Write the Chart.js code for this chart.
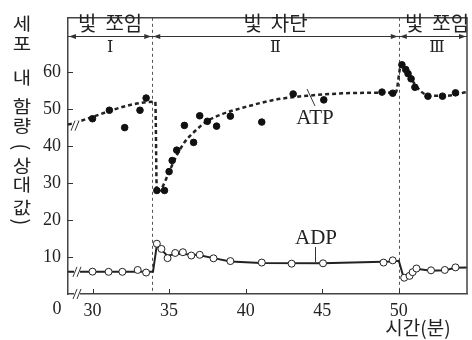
<!DOCTYPE html>
<html>
<head>
<meta charset="utf-8">
<script src="https://cdn.jsdelivr.net/npm/chart.js@4.4.0/dist/chart.umd.min.js"></script>
<style>
  html, body { margin: 0; padding: 0; background: #fff; }
  #wrap { width: 472px; height: 340px; }
</style>
</head>
<body>
<div id="wrap"><canvas id="c" width="472" height="340"></canvas></div>
<script>
// ATP 측정값 (검은 점)
const atpX = [30.0, 31.1, 32.1, 33.1, 33.5, 34.2, 34.7, 35.0, 35.2, 35.5, 36.0, 36.6, 37.0, 37.5, 38.1, 39.0, 41.05, 43.1, 45.1, 48.9, 49.6, 50.2, 50.45, 50.6, 50.8, 51.05, 51.9, 52.85, 53.7];
const atpY = [47.4, 49.7, 45.0, 49.7, 53.0, 28.0, 28.0, 33.1, 36.1, 38.9, 45.6, 41.0, 48.2, 46.7, 45.4, 48.1, 46.5, 54.1, 52.5, 54.6, 54.3, 62.0, 60.7, 59.6, 58.2, 55.9, 53.5, 53.5, 54.4];

// ATP 추세선 (점선)
const atpCurveX = [28.4, 34.1, 34.2, 34.5, 35.0, 35.5, 36.0, 36.5, 37.5, 38.5, 40.0, 42.0, 44.0, 46.0, 48.0, 49.8, 50.15, 50.5, 51.0, 51.5, 52.0, 53.0, 54.45];
const atpCurveY = [45.8, 52.0, 27.5, 28.5, 33.0, 37.5, 41.0, 43.3, 46.8, 48.7, 50.6, 52.6, 53.6, 54.2, 54.4, 54.5, 62.0, 60.5, 57.0, 54.6, 53.6, 53.6, 54.6];

// ADP 측정값 (흰 점)
const adpX = [30.0, 31.05, 31.95, 32.95, 33.5, 34.2, 34.5, 34.9, 35.4, 35.9, 36.45, 37.0, 37.9, 39.0, 41.05, 43.0, 45.05, 49.0, 49.6, 50.35, 50.7, 50.9, 51.15, 52.1, 53.0, 53.7];
const adpY = [6.05, 6.0, 6.0, 6.5, 5.8, 13.6, 12.2, 9.7, 11.1, 11.3, 10.4, 10.6, 9.65, 8.9, 8.5, 8.2, 8.3, 8.5, 9.1, 4.4, 4.9, 5.9, 6.9, 6.4, 6.5, 7.2];

// ADP 연결선 (실선)
const adpLineX = [28.4, 33.95, 34.2, 34.9, 35.4, 36.45, 37.0, 37.9, 39.0, 41.0, 45.0, 49.6, 50.0, 50.3, 51.15, 52.1, 53.0, 53.7, 54.45];
const adpLineY = [6.0, 6.0, 13.2, 10.3, 10.9, 10.7, 10.5, 9.7, 8.8, 8.4, 8.3, 8.8, 9.0, 4.6, 6.8, 6.3, 6.4, 7.1, 7.2];

const xTicks = [30, 35, 40, 45, 50];
const yTicks = [10, 20, 30, 40, 50, 60];
const phaseEdges = [33.9, 50];
const phaseNames = ['빛  쪼임', '빛  차단', '빛  쪼임'];
const phaseNums = ['Ⅰ', 'Ⅱ', 'Ⅲ'];

const toPts = (xs, ys) => xs.map((x, i) => ({ x: x, y: ys[i] }));

const serif = '"Liberation Serif", "DejaVu Serif", serif';
const kor = '"Noto Sans CJK KR", "Noto Sans", sans-serif';

const decor = {
    id: 'decor',
    beforeDatasetsDraw(chart) {
        const { ctx, chartArea: a, scales: { x } } = chart;
        ctx.save();
        // 구간 경계 점선
        ctx.strokeStyle = '#555';
        ctx.lineWidth = 1;
        ctx.setLineDash([3, 3]);
        phaseEdges.forEach(v => {
            const px = Math.round(x.getPixelForValue(v)) + 0.5;
            ctx.beginPath();
            ctx.moveTo(px, a.top);
            ctx.lineTo(px, a.bottom);
            ctx.stroke();
        });
        ctx.restore();
    },
    afterDraw(chart) {
        const { ctx, chartArea: a, scales: { x, y } } = chart;
        ctx.save();
        // 위, 오른쪽 테두리
        ctx.strokeStyle = '#444';
        ctx.lineWidth = 1.5;
        ctx.beginPath();
        ctx.moveTo(a.left, a.top);
        ctx.lineTo(a.right, a.top);
        ctx.lineTo(a.right, a.bottom);
        ctx.stroke();

        // 안쪽 눈금
        ctx.lineWidth = 1;
        ctx.strokeStyle = '#333';
        yTicks.forEach(v => {
            const py = Math.round(y.getPixelForValue(v)) + 0.5;
            ctx.beginPath(); ctx.moveTo(a.left, py); ctx.lineTo(a.left + 5, py); ctx.stroke();
        });
        xTicks.forEach(v => {
            const px = Math.round(x.getPixelForValue(v)) + 0.5;
            ctx.beginPath(); ctx.moveTo(px, a.bottom); ctx.lineTo(px, a.bottom - 5); ctx.stroke();
        });

        // 구간 화살표
        const edges = [a.left, x.getPixelForValue(phaseEdges[0]), x.getPixelForValue(phaseEdges[1]), a.right];
        const ay = 36;
        ctx.strokeStyle = '#333';
        ctx.fillStyle = '#333';
        ctx.beginPath(); ctx.moveTo(a.left, ay + 0.5); ctx.lineTo(a.right, ay + 0.5); ctx.stroke();
        const head = (px, dir) => {
            ctx.beginPath();
            ctx.moveTo(px, ay + 0.5);
            ctx.lineTo(px - dir * 7, ay - 2);
            ctx.lineTo(px - dir * 7, ay + 3);
            ctx.closePath();
            ctx.fill();
        };
        for (let i = 0; i < 3; i++) {
            head(edges[i] + 1, -1);
            head(edges[i + 1] - 1, 1);
        }
        ctx.textAlign = 'center';
        ctx.textBaseline = 'middle';
        ctx.fillStyle = '#222';
        for (let i = 0; i < 3; i++) {
            const cx = i === 2 ? 437 : (edges[i] + edges[i + 1]) / 2;
            ctx.font = '20px ' + kor;
            ctx.fillText(phaseNames[i], cx, 23);
            ctx.font = '16px "DejaVu Serif", serif';
            ctx.fillText(phaseNums[i], cx, 48);
        }

        // 축 끊김 표시
        const brk = (px, py) => {
            ctx.fillStyle = '#fff';
            ctx.fillRect(px - 3, py - 5, 6, 10);
            ctx.strokeStyle = '#333';
            ctx.lineWidth = 1;
            [-2, 2].forEach(d => {
                ctx.beginPath();
                ctx.moveTo(px + d - 2, py + 5);
                ctx.lineTo(px + d + 2, py - 5);
                ctx.stroke();
            });
        };
        brk(75, y.getPixelForValue(45.8) + 1);
        brk(77, y.getPixelForValue(6.0));
        brk(77, a.bottom);

        // 라벨
        ctx.fillStyle = '#222';
        ctx.font = '21px ' + serif;
        ctx.fillText('ATP', 315, 118);
        ctx.fillText('ADP', 316, 238);
        ctx.strokeStyle = '#333';
        ctx.beginPath(); ctx.moveTo(307, 89); ctx.lineTo(315, 106); ctx.stroke();
        ctx.beginPath(); ctx.moveTo(315.5, 247); ctx.lineTo(315.5, 262); ctx.stroke();

        ctx.font = '18px ' + serif;
        ctx.fillText('0', 57, 309);
        ctx.font = '19px ' + kor;
        ctx.fillText('시간(분)', 418, 328);

        // 세로 축 제목
        const chars = ['세', '포', '내', '함', '량', '(', '상', '대', '값', ')'];
        const ys = [23, 43, 77, 106, 125, 147, 165, 184, 207, 222];
        ctx.font = '20px ' + kor;
        chars.forEach((ch, i) => {
            ctx.save();
            ctx.translate(22, ys[i]);
            if (ch === '(' || ch === ')') {
                ctx.rotate(Math.PI / 2);
            } else {
                ctx.scale(1, 0.88);
            }
            ctx.fillText(ch, 0, 0);
            ctx.restore();
        });
        ctx.restore();
    }
};

new Chart(document.getElementById('c'), {
    type: 'scatter',
    data: {
        datasets: [
            {
                label: 'ATP',
                data: toPts(atpX, atpY),
                backgroundColor: '#111',
                borderColor: '#111',
                pointRadius: 3.3,
                order: 1
            },
            {
                label: 'ADP',
                data: toPts(adpX, adpY),
                backgroundColor: '#fff',
                borderColor: '#222',
                borderWidth: 1,
                pointRadius: 3.5,
                order: 0
            },
            {
                label: 'ATP 추세',
                type: 'line',
                data: toPts(atpCurveX, atpCurveY),
                borderColor: '#222',
                borderWidth: 2.5,
                borderDash: [4, 3],
                pointRadius: 0,
                cubicInterpolationMode: 'monotone',
                fill: false,
                order: 3
            },
            {
                label: 'ADP 선',
                type: 'line',
                data: toPts(adpLineX, adpLineY),
                borderColor: '#222',
                borderWidth: 2,
                pointRadius: 0,
                tension: 0,
                fill: false,
                order: 4
            }
        ]
    },
    options: {
        responsive: false,
        animation: false,
        layout: { padding: { top: 10, right: 1, left: 0, bottom: 0 } },
        plugins: {
            legend: { display: false },
            tooltip: { enabled: false }
        },
        scales: {
            x: {
                type: 'linear',
                min: 28.4,
                max: 54.45,
                afterBuildTicks: s => { s.ticks = xTicks.map(v => ({ value: v })); },
                afterFit: s => { s.height = 46; },
                grid: { drawOnChartArea: false, drawTicks: false },
                border: { color: '#444', width: 1.5 },
                ticks: {
                    padding: 6,
                    color: '#222',
                    font: { family: serif, size: 18 },
                    maxRotation: 0
                }
            },
            y: {
                min: 0,
                max: 74.7,
                afterBuildTicks: s => { s.ticks = yTicks.map(v => ({ value: v })); },
                afterFit: s => { s.width = 68; },
                grid: { drawOnChartArea: false, drawTicks: false },
                border: { color: '#444', width: 1.5 },
                ticks: {
                    padding: 7,
                    color: '#222',
                    font: { family: serif, size: 18 }
                }
            }
        }
    },
    plugins: [decor]
});
</script>
</body>
</html>
